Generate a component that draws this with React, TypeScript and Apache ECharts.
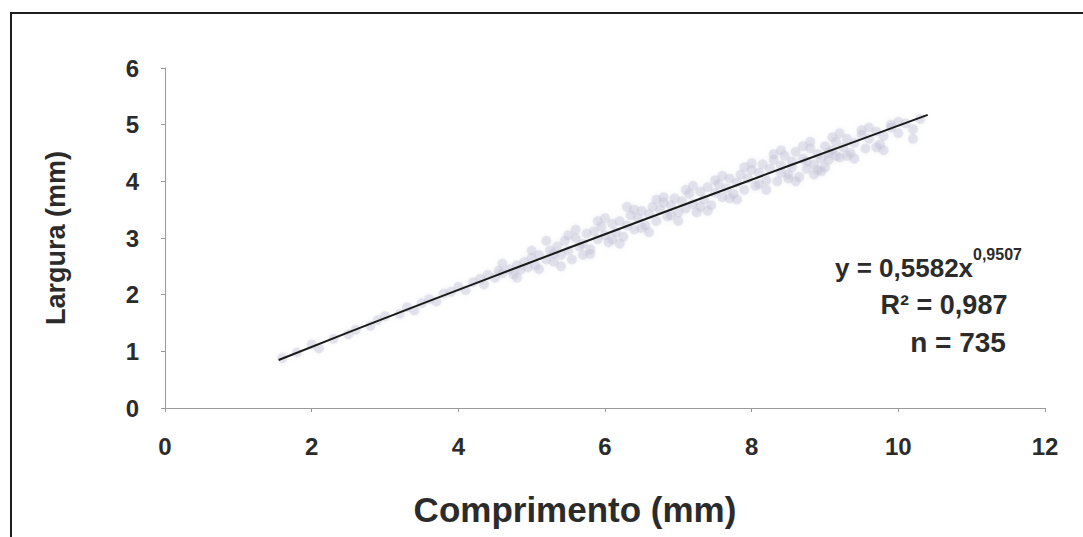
import React, { useEffect, useRef } from "react";
import * as echarts from "echarts";

// Leaf measurements: length (comprimento, mm) and width (largura, mm)
const comprimento = [
  1.6, 1.8, 2.0, 2.1, 2.3, 2.5, 2.6, 2.8, 2.9, 3.0, 3.2, 3.3, 3.4, 3.5, 3.6, 3.7, 3.8, 3.9,
  4.0, 4.1, 4.2, 4.3, 4.35, 4.4, 4.5, 4.55, 4.6, 4.7, 4.75, 4.8, 4.85, 4.9, 4.95, 5.0, 5.05,
  5.1, 5.1, 5.2, 5.25, 5.3, 5.35, 5.4, 5.45, 5.5, 5.55, 5.6, 5.65, 5.7, 5.75, 5.8, 5.85, 5.9,
  5.95, 6.0, 6.05, 6.1, 6.15, 6.2, 6.25, 6.3, 6.35, 6.4, 6.45, 6.5, 6.55, 6.6, 6.65, 6.7,
  6.75, 6.8, 6.85, 6.9, 6.95, 7.0, 7.05, 7.1, 7.15, 7.2, 7.25, 7.3, 7.35, 7.4, 7.45, 7.5,
  7.55, 7.6, 7.65, 7.7, 7.75, 7.8, 7.85, 7.9, 7.95, 8.0, 8.05, 8.1, 8.15, 8.2, 8.25, 8.3,
  8.35, 8.4, 8.45, 8.5, 8.55, 8.6, 8.65, 8.7, 8.75, 8.8, 8.85, 8.9, 8.95, 9.0, 9.05, 9.1,
  9.15, 9.2, 9.25, 9.3, 9.35, 9.4, 9.5, 9.55, 9.6, 9.7, 9.75, 9.8, 9.9, 10.0, 10.1, 10.2, 10.3,
  5.2, 5.4, 5.6, 5.8, 6.0, 6.2, 6.4, 6.6, 6.8, 7.0, 7.2, 7.4, 7.6, 7.8, 8.0, 8.2, 8.4, 8.6,
  8.8, 9.0, 9.2, 9.4, 9.6, 9.8, 10.0, 10.2, 4.6, 4.8, 5.0, 5.3, 5.5, 5.7, 5.9, 6.1, 6.3, 6.5,
  6.7, 6.9, 7.1, 7.3, 7.5, 7.7, 7.9, 8.1, 8.3, 8.5, 8.7, 8.9, 9.1, 9.3, 9.5, 9.7, 9.9, 8.55,
  8.75, 8.95, 9.15, 8.4, 9.05, 8.85,
];
const largura = [
  0.88, 0.98, 1.12, 1.05, 1.22, 1.30, 1.38, 1.45, 1.55, 1.62, 1.66, 1.78, 1.72, 1.85, 1.92, 1.88, 2.02, 2.05,
  2.14, 2.08, 2.22, 2.28, 2.18, 2.35, 2.30, 2.42, 2.38, 2.45, 2.36, 2.52, 2.44, 2.58, 2.48, 2.65, 2.52,
  2.70, 2.45, 2.62, 2.78, 2.58, 2.85, 2.70, 2.95, 2.78, 2.62, 3.00, 2.85, 2.90, 3.08, 2.80, 3.12, 2.98,
  3.20, 3.05, 2.92, 3.25, 3.10, 3.30, 3.02, 3.22, 3.40, 3.15, 3.35, 3.48, 3.22, 3.42, 3.55, 3.30,
  3.50, 3.62, 3.38, 3.58, 3.70, 3.45, 3.65, 3.52, 3.78, 3.60, 3.45, 3.82, 3.68, 3.90, 3.58, 3.80,
  3.95, 3.72, 3.88, 4.05, 3.78, 3.98, 4.12, 3.85, 4.05, 4.20, 3.92, 4.15, 4.30, 4.02, 4.22, 4.38,
  4.00, 4.28, 4.45, 4.12, 4.35, 4.52, 4.08, 4.40, 4.22, 4.58, 4.30, 4.48, 4.18, 4.62, 4.38, 4.55,
  4.70, 4.42, 4.60, 4.75, 4.50, 4.68, 4.82, 4.58, 4.75, 4.88, 4.65, 4.80, 4.95, 4.85, 5.02, 4.92, 5.10,
  2.95, 2.50, 3.15, 2.72, 3.35, 2.90, 3.50, 3.10, 3.72, 3.30, 3.92, 3.48, 4.10, 3.68, 4.32, 3.85, 4.55, 4.00,
  4.70, 4.25, 4.85, 4.40, 4.95, 4.55, 5.05, 4.75, 2.55, 2.30, 2.78, 2.72, 3.05, 2.70, 3.30, 2.98, 3.55, 3.18,
  3.68, 3.40, 3.85, 3.55, 4.02, 3.70, 4.25, 3.95, 4.48, 4.05, 4.62, 4.20, 4.78, 4.45, 4.90, 4.60, 5.00, 4.25,
  4.35, 4.40, 4.45, 4.15, 4.50, 4.12,
];

// Power fit y = a·x^b and the range it is drawn over
const fitA = 0.5582;
const fitB = 0.9507;
const fitX = [1.55, 2.5, 3.5, 4.5, 5.5, 6.5, 7.5, 8.5, 9.5, 10.4];

const xTicks = [0, 2, 4, 6, 8, 10, 12];
const yTicks = [0, 1, 2, 3, 4, 5, 6];

const FONT = "'Liberation Sans', Arial, sans-serif";
const INK = "#2b2b2b";

export default function App() {
  const ref = useRef<HTMLDivElement>(null);

  useEffect(() => {
    document.body.style.margin = "0";
    if (!ref.current) return;
    const chart = echarts.init(ref.current, null, { renderer: "svg" });

    const points = comprimento.map((x, i) => [x, largura[i]]);
    const fitLine = fitX.map((x) => [x, fitA * Math.pow(x, fitB)]);

    chart.setOption({
      animation: false,
      backgroundColor: "#ffffff",
      grid: { left: 165, right: 38, top: 68, bottom: 129 },
      xAxis: {
        type: "value",
        min: xTicks[0],
        max: xTicks[xTicks.length - 1],
        interval: 2,
        name: "Comprimento (mm)",
        nameLocation: "middle",
        nameGap: 84,
        nameTextStyle: {
          fontFamily: FONT,
          fontWeight: "bold",
          fontSize: 35,
          color: INK,
          padding: [0, 60, 0, 0],
        },
        axisLine: { show: true, lineStyle: { color: "#9a9a9a", width: 1 } },
        axisTick: { show: true, length: 4, lineStyle: { color: "#9a9a9a" } },
        axisLabel: { margin: 26, fontFamily: FONT, fontWeight: "bold", fontSize: 24, color: INK },
        splitLine: { show: false },
      },
      yAxis: {
        type: "value",
        min: yTicks[0],
        max: yTicks[yTicks.length - 1],
        interval: 1,
        name: "Largura (mm)",
        nameLocation: "middle",
        nameGap: 96,
        nameTextStyle: { fontFamily: FONT, fontWeight: "bold", fontSize: 27, color: INK },
        axisLine: { show: true, lineStyle: { color: "#9a9a9a", width: 1 } },
        axisTick: { show: true, length: 4, lineStyle: { color: "#9a9a9a" } },
        axisLabel: { margin: 26, fontFamily: FONT, fontWeight: "bold", fontSize: 24, color: INK },
        splitLine: { show: false },
      },
      series: [
        {
          type: "scatter",
          data: points,
          symbol: "circle",
          symbolSize: 10,
          itemStyle: {
            color: "rgba(188,188,212,0.42)",
            shadowBlur: 4,
            shadowColor: "rgba(188,188,212,0.5)",
          },
          z: 1,
        },
        {
          type: "line",
          data: fitLine,
          showSymbol: false,
          smooth: false,
          lineStyle: { color: "#1a1a1a", width: 2 },
          z: 3,
        },
      ],
      graphic: [
        {
          type: "rect",
          shape: { x: 11, y: 13, width: 1090, height: 540 },
          style: { fill: "none", stroke: "#1e1e1e", lineWidth: 2 },
          silent: true,
        },
        {
          type: "text",
          x: 835,
          y: 268,
          style: {
            text: "y = 0,5582x",
            font: `bold 26px ${FONT}`,
            fill: INK,
            textAlign: "left",
            textVerticalAlign: "middle",
          },
        },
        {
          type: "text",
          x: 973,
          y: 254,
          style: {
            text: "0,9507",
            font: `bold 16px ${FONT}`,
            fill: INK,
            textAlign: "left",
            textVerticalAlign: "middle",
          },
        },
        {
          type: "text",
          x: 944,
          y: 305,
          style: {
            text: "R² = 0,987",
            font: `bold 27px ${FONT}`,
            fill: INK,
            textAlign: "center",
            textVerticalAlign: "middle",
          },
        },
        {
          type: "text",
          x: 958,
          y: 342,
          style: {
            text: "n = 735",
            font: `bold 28px ${FONT}`,
            fill: INK,
            textAlign: "center",
            textVerticalAlign: "middle",
          },
        },
      ],
    });

    return () => chart.dispose();
  }, []);

  return <div ref={ref} style={{ width: 1083, height: 537 }} />;
}
